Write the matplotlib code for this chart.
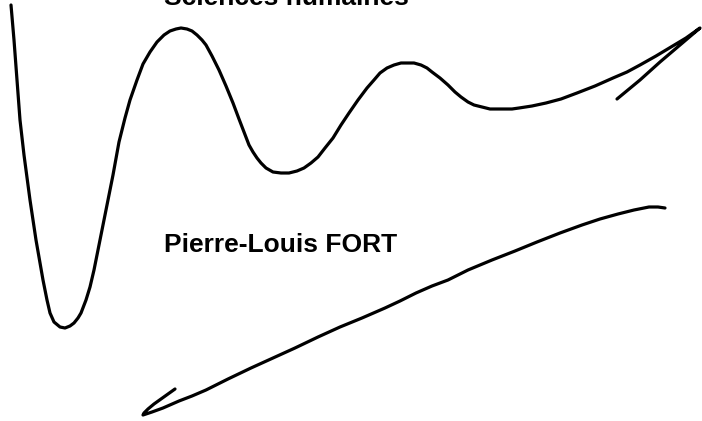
import matplotlib
matplotlib.use("Agg")
import matplotlib.pyplot as plt

# freehand stroke 1 (wave), traced in pixel coords of the 702x421 canvas
wave_x = [11, 14, 17, 20, 24, 30, 36, 43, 47, 50, 54, 60, 65, 70, 74, 78, 81, 86, 90, 94,
          100, 107, 113, 119, 125, 130, 137, 143, 150, 157, 164, 170, 176, 181, 187, 192,
          197, 202, 206, 212, 219, 226, 233, 239, 244, 249, 253, 257, 261, 266, 273, 281,
          289, 297, 304, 311, 318, 325, 333, 341, 349, 358, 367, 374, 380, 387, 394, 401,
          407, 414, 421, 427, 432, 440, 448, 455, 461, 468, 474, 482, 490, 497, 505, 512,
          519, 532, 546, 561, 577, 595, 613, 627, 640, 656, 671, 686, 700, 680, 660, 640, 617]
wave_y = [5, 40, 80, 120, 155, 200, 240, 280, 300, 313, 322, 327, 328, 326, 323, 318, 313, 300,
          287, 270, 240, 205, 175, 142, 118, 100, 80, 64, 52, 42, 35, 31, 29, 28, 29, 31,
          35, 40, 45, 56, 70, 86, 103, 119, 132, 145, 152, 158, 163, 168, 172, 173, 173,
          171, 168, 163, 157, 148, 138, 125, 113, 100, 88, 80, 73, 68, 65, 63, 63, 63, 65,
          68, 72, 78, 85, 92, 97, 102, 105, 107, 109, 109, 109, 109, 108, 106, 103, 99,
          93, 86, 78, 72, 65, 56, 47, 38, 28, 45, 62, 80, 99]

# freehand stroke 2 (arrow-like line)
line_x = [665, 658, 649, 634, 618, 600, 582, 560, 537, 515, 492, 468, 448, 432, 416, 400,
          385, 362, 340, 318, 295, 273, 251, 228, 206, 192, 179, 163, 152, 146, 143, 144,
          148, 154, 161, 168, 175]
line_y = [208, 207, 207, 210, 214, 219, 225, 233, 242, 251, 260, 270, 280, 286, 293, 301,
          308, 318, 327, 337, 348, 358, 368, 379, 390, 396, 401, 408, 412, 414, 415, 413,
          409, 404, 399, 394, 389]

texts = ["Sciences humaines", "Pierre-Louis FORT"]
text_pos = [(164, 5), (164, 252)]

fig = plt.figure(figsize=(7.02, 4.21), dpi=100)
ax = fig.add_axes([0, 0, 1, 1])
ax.set_xlim(0, 702)
ax.set_ylim(421, 0)
ax.axis("off")

for xs, ys in [(wave_x, wave_y), (line_x, line_y)]:
    ax.plot(xs, ys, color="black", lw=2.3, solid_capstyle="round", solid_joinstyle="round")

for s, (x, y) in zip(texts, text_pos):
    ax.text(x, y, s, fontsize=19, fontweight="bold", family="Liberation Sans",
            ha="left", va="baseline")

fig.savefig("out.png", dpi=100)
